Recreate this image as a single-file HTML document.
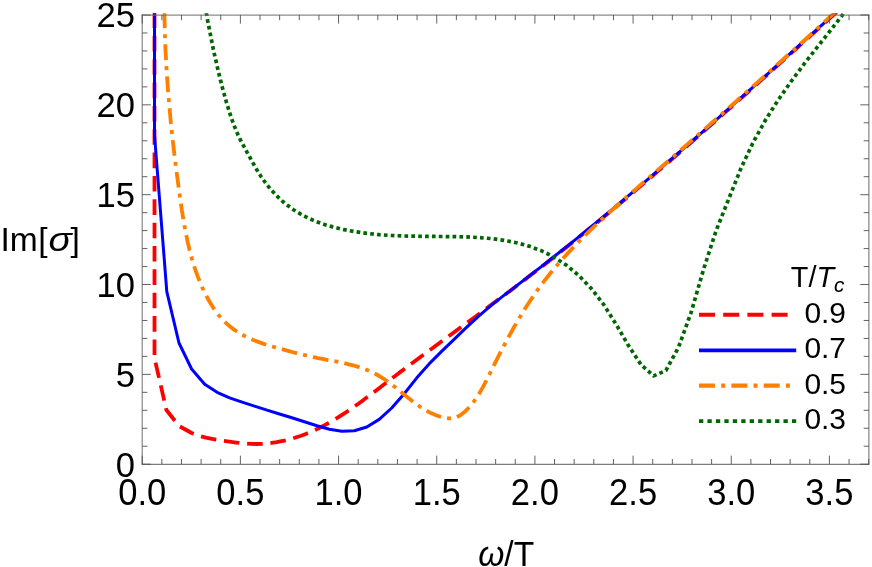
<!DOCTYPE html>
<html>
<head>
<meta charset="utf-8">
<title>Im[sigma] vs omega/T</title>
<style>
html, body { margin: 0; padding: 0; background: #ffffff; }
body { width: 872px; height: 567px; overflow: hidden; }
svg { display: block; will-change: transform; }
text { font-family: "Liberation Sans", sans-serif; fill: #000000; }
.it { font-style: italic; }
</style>
</head>
<body>
<svg width="872" height="567" viewBox="0 0 872 567">
<rect x="0" y="0" width="872" height="567" fill="#ffffff"/>
<defs>
<clipPath id="pc"><rect x="141.2" y="13.3" width="728.7" height="452.59999999999997"/></clipPath>
</defs>

<!-- data curves -->
<g clip-path="url(#pc)" fill="none" stroke-linejoin="round" stroke-linecap="butt">
<polyline stroke="#ff0000" stroke-width="3.8" stroke-dasharray="15.6 7.75" points="154.5,12.5 154.5,358.0 166.4,410.0 179.0,426.0 191.6,433.0 196.3,434.9 201.1,436.4 206.0,437.7 210.9,438.7 215.9,439.6 220.9,440.4 225.9,441.2 231.0,441.9 236.1,442.6 241.2,443.2 246.3,443.6 251.4,443.9 256.5,444.0 261.6,443.9 266.7,443.5 271.7,442.9 276.7,442.2 281.6,441.2 286.6,440.1 291.5,438.8 296.3,437.3 301.1,435.7 305.8,433.9 310.5,432.0 315.1,429.9 319.7,427.7 324.2,425.4 328.6,423.0 333.0,420.5 337.3,417.9 341.6,415.2 345.9,412.4 350.1,409.5 354.2,406.6 358.4,403.7 362.5,400.7 366.6,397.6 370.7,394.6 374.8,391.5 378.8,388.4 382.9,385.3 386.9,382.2 391.0,379.1 395.1,376.0 399.1,372.9 403.2,369.9 407.2,366.8 411.3,363.8 415.4,360.7 419.4,357.7 423.5,354.7 427.6,351.7 431.7,348.7 435.7,345.7 439.8,342.7 443.9,339.7 448.0,336.7 452.1,333.7 456.1,330.7 460.2,327.7 464.3,324.7 468.4,321.7 472.5,318.7 476.6,315.7 480.7,312.7 484.8,309.6 488.9,306.6 492.9,303.6 497.0,300.6 501.1,297.5 505.2,294.5 509.3,291.4 513.3,288.4 517.4,285.3 521.4,282.3 525.5,279.2 529.5,276.1 533.5,273.0 537.5,269.9 541.6,266.8 545.6,263.7 549.6,260.5 553.6,257.4 557.5,254.3 561.5,251.1 565.5,247.9 569.5,244.8 573.4,241.6 577.4,238.4 581.3,235.2 585.3,232.0 589.2,228.8 593.1,225.6 597.1,222.4 601.0,219.2 604.9,216.0 608.8,212.7 612.7,209.5 616.6,206.2 620.5,203.0 624.4,199.7 628.3,196.5 632.2,193.2 636.1,189.9 639.9,186.6 643.8,183.3 647.7,180.0 651.5,176.7 655.4,173.4 659.2,170.1 663.1,166.8 666.9,163.5 670.8,160.2 674.6,156.8 678.5,153.5 682.3,150.2 686.1,146.8 689.9,143.5 693.8,140.1 697.6,136.8 701.4,133.4 705.2,130.1 709.0,126.7 712.8,123.4 716.6,120.0 720.4,116.6 724.2,113.2 728.0,109.9 731.8,106.5 735.6,103.1 739.4,99.7 743.2,96.3 747.0,93.0 750.8,89.6 754.5,86.2 758.3,82.8 762.1,79.4 765.9,76.0 769.7,72.6 773.4,69.2 777.2,65.8 781.0,62.4 784.8,59.0 788.5,55.6 792.3,52.2 796.1,48.8 799.8,45.4 803.6,42.0 807.4,38.6 811.1,35.2 814.9,31.8 818.7,28.4 822.4,25.0 826.2,21.6 830.0,18.2 833.7,14.8 837.5,11.4 841.3,8.0 845.1,4.6"/>
<polyline stroke="#0000ff" stroke-width="3.0" points="154.5,12.4 154.5,135.0 166.8,291.7 179.0,343.0 191.6,369.0 204.7,384.3 217.1,392.3 229.6,397.8 242.1,402.1 254.5,406.1 267.0,410.1 279.5,414.0 291.9,417.8 304.4,421.7 316.9,425.7 329.4,429.3 341.8,431.3 354.3,430.7 366.8,427.0 379.2,419.4 391.7,408.0 404.2,393.7 416.6,378.1 429.1,363.9 441.6,351.4 454.1,339.4 466.5,327.4 479.0,315.8 491.5,305.1 503.9,295.4 516.4,285.9 528.9,276.3 541.3,266.6 553.8,256.8 566.3,246.9 578.8,236.8 591.2,226.7 603.7,216.4 616.2,206.1 628.6,195.6 641.1,185.1 653.6,174.4 666.0,163.7 678.5,152.9 691.0,142.0 703.5,131.1 715.9,120.1 728.4,109.0 740.9,97.9 753.3,86.8 765.8,75.6 778.3,64.4 790.7,53.1 803.2,41.9 815.7,30.6 828.2,19.3 840.6,8.1 845.0,4.1"/>
<polyline stroke="#ff8000" stroke-width="3.8" stroke-dasharray="15.8 6.1 4.0 6.13" points="164.5,12.3 164.5,16.7 164.6,21.2 164.7,25.6 164.8,30.1 164.9,34.5 165.1,38.9 165.3,43.4 165.4,47.8 165.6,52.2 165.9,56.7 166.1,61.1 166.3,65.5 166.6,70.0 166.9,74.4 167.2,78.8 167.5,83.2 167.8,87.6 168.1,92.1 168.5,96.5 168.9,100.9 169.3,105.3 169.7,109.7 170.1,114.2 170.5,118.6 170.9,123.0 171.4,127.4 171.8,131.8 172.3,136.2 172.8,140.6 173.3,145.0 173.8,149.4 174.3,153.8 174.9,158.2 175.4,162.6 175.9,167.1 176.5,171.5 177.1,175.9 177.7,180.3 178.3,184.7 178.9,189.1 179.5,193.5 180.1,197.9 180.7,202.3 181.4,206.7 182.0,211.1 182.7,215.4 183.4,219.8 184.2,224.2 185.0,228.6 185.8,232.9 186.7,237.2 187.6,241.6 188.6,245.9 189.6,250.2 190.8,254.5 191.9,258.7 193.2,263.0 194.5,267.2 195.9,271.4 197.4,275.6 199.0,279.7 200.7,283.8 202.5,287.9 204.4,292.0 206.4,296.0 208.6,300.0 210.8,303.8 213.2,307.6 215.8,311.3 218.4,314.8 221.3,318.2 224.3,321.4 227.5,324.4 230.9,327.3 234.4,329.9 238.1,332.3 242.0,334.6 245.9,336.7 249.9,338.6 254.0,340.3 258.2,341.9 262.4,343.4 266.6,344.8 270.8,346.1 275.1,347.3 279.4,348.5 283.7,349.7 288.0,350.8 292.2,352.0 296.5,353.1 300.8,354.2 305.0,355.2 309.3,356.2 313.7,357.2 318.0,358.1 322.4,358.9 326.8,359.8 331.2,360.6 335.6,361.4 340.0,362.3 344.3,363.2 348.7,364.3 353.0,365.3 357.3,366.6 361.5,367.9 365.6,369.4 369.7,371.1 373.7,372.9 377.5,375.0 381.3,377.3 385.1,379.7 388.7,382.3 392.3,385.0 395.9,387.8 399.4,390.7 402.9,393.5 406.5,396.4 410.0,399.2 413.5,402.0 417.1,404.6 420.8,407.2 424.5,409.5 428.3,411.7 432.1,413.6 436.1,415.3 440.2,416.7 444.4,417.8 448.6,418.3 452.8,418.2 456.8,417.1 460.6,415.1 464.2,412.3 467.5,409.0 470.6,405.6 473.4,402.1 476.0,398.4 478.5,394.7 480.7,390.9 482.9,387.1 485.0,383.2 487.0,379.2 489.0,375.2 491.0,371.3 492.9,367.3 494.9,363.3 496.9,359.3 498.9,355.4 501.0,351.4 503.0,347.4 505.1,343.5 507.2,339.6 509.3,335.6 511.5,331.7 513.6,327.8 515.9,324.0 518.1,320.1 520.4,316.3 522.7,312.5 525.0,308.7 527.4,305.0 529.8,301.3 532.3,297.6 534.8,293.9 537.3,290.3 539.9,286.7 542.6,283.2 545.2,279.7 548.0,276.2 550.7,272.8 553.6,269.4 556.4,266.0 559.3,262.7 562.2,259.3 565.2,256.1 568.2,252.8 571.2,249.6 574.2,246.4 577.3,243.2 580.4,240.0 583.5,236.9 586.7,233.8 589.9,230.7 593.1,227.6 596.3,224.5 599.5,221.5 602.8,218.5 606.1,215.5 609.4,212.5 612.7,209.5 616.0,206.5 619.3,203.5 622.7,200.6 626.0,197.6 629.4,194.7 632.7,191.8 636.1,188.8 639.4,185.9 642.8,183.0 646.2,180.1 649.5,177.2 652.9,174.2 656.2,171.3 659.6,168.4 663.0,165.5 666.3,162.6 669.7,159.7 673.0,156.7 676.4,153.8 679.7,150.9 683.0,148.0 686.4,145.1 689.7,142.2 693.1,139.2 696.4,136.3 699.7,133.4 703.1,130.5 706.4,127.6 709.7,124.6 713.0,121.7 716.4,118.8 719.7,115.9 723.0,112.9 726.3,110.0 729.6,107.1 732.9,104.1 736.3,101.2 739.6,98.3 742.9,95.3 746.2,92.4 749.5,89.5 752.8,86.5 756.1,83.6 759.4,80.6 762.7,77.7 766.0,74.7 769.3,71.8 772.6,68.8 775.9,65.9 779.2,62.9 782.5,60.0 785.8,57.0 789.1,54.0 792.4,51.1 795.7,48.1 799.0,45.1 802.3,42.1 805.6,39.2 808.9,36.2 812.2,33.2 815.4,30.2 818.7,27.2 822.0,24.2 825.3,21.2 828.6,18.2 831.9,15.2 835.2,12.2 838.5,9.2 841.7,6.2 845.0,3.1"/>
<polyline stroke="#006600" stroke-width="3.7" stroke-dasharray="3.7 3.17" points="206.2,12.4 206.7,15.2 207.2,18.0 207.7,20.9 208.3,23.7 208.8,26.5 209.4,29.3 209.9,32.1 210.5,35.0 211.0,37.8 211.6,40.6 212.2,43.4 212.7,46.2 213.3,49.0 213.9,51.8 214.5,54.6 215.1,57.4 215.8,60.2 216.4,63.0 217.0,65.8 217.7,68.6 218.3,71.4 219.0,74.2 219.7,76.9 220.4,79.7 221.1,82.5 221.8,85.3 222.5,88.0 223.2,90.8 224.0,93.6 224.8,96.4 225.6,99.1 226.3,101.9 227.2,104.7 228.0,107.4 228.8,110.2 229.7,112.9 230.6,115.6 231.5,118.4 232.5,121.1 233.5,123.8 234.5,126.5 235.6,129.1 236.7,131.8 237.8,134.4 239.0,137.0 240.3,139.6 241.6,142.1 242.9,144.6 244.3,147.2 245.7,149.7 247.0,152.2 248.4,154.7 249.8,157.2 251.1,159.7 252.5,162.2 253.9,164.7 255.3,167.2 256.8,169.7 258.2,172.1 259.8,174.6 261.3,177.0 263.0,179.3 264.7,181.7 266.4,184.0 268.2,186.3 270.0,188.5 271.9,190.7 273.9,192.8 275.9,194.9 277.9,196.9 280.0,198.9 282.1,200.9 284.3,202.7 286.5,204.6 288.8,206.3 291.1,208.0 293.5,209.7 295.8,211.2 298.3,212.7 300.7,214.1 303.2,215.5 305.8,216.8 308.3,218.1 310.9,219.2 313.5,220.4 316.2,221.5 318.9,222.5 321.6,223.5 324.3,224.4 327.1,225.3 329.8,226.1 332.6,226.9 335.5,227.6 338.3,228.3 341.8,229.2 354.3,231.6 366.8,233.4 379.2,234.7 391.7,235.5 404.2,236.0 416.6,236.2 429.1,236.4 441.6,236.5 454.1,236.6 466.5,236.9 479.0,237.6 491.5,238.6 503.9,240.3 516.4,242.7 528.9,246.1 541.3,250.7 553.8,256.9 566.3,265.1 578.8,275.5 591.2,288.4 603.7,304.6 616.2,324.5 628.6,345.8 641.1,364.8 653.6,375.9 666.0,370.4 678.5,347.3 691.0,312.8 703.5,269.6 715.9,231.2 728.4,199.7 740.9,168.5 753.3,142.0 765.8,119.5 778.3,99.8 790.7,82.0 803.2,65.2 815.7,49.1 828.2,33.3 840.6,17.4 850.9,4.0"/>
</g>

<!-- frame and ticks -->
<g stroke-width="1.0" fill="none" stroke-linecap="square">
<line x1="142.2" y1="15.0" x2="142.2" y2="464.2" stroke="#6e6e6e"/>
<line x1="868.9" y1="15.0" x2="868.9" y2="464.2" stroke="#6a6a6a"/>
<line x1="142.2" y1="15.1" x2="868.9" y2="15.1" stroke="#6e6e6e"/>
<line x1="142.2" y1="464.3" x2="868.9" y2="464.3" stroke="#5c5c5c"/>
</g>
<g stroke="#505050" stroke-width="0.9" fill="none">
<line x1="142.20" y1="464.2" x2="142.20" y2="455.59999999999997"/>
<line x1="142.20" y1="15.0" x2="142.20" y2="23.6"/>
<line x1="161.83" y1="464.2" x2="161.83" y2="459.0"/>
<line x1="161.83" y1="15.0" x2="161.83" y2="20.2"/>
<line x1="181.47" y1="464.2" x2="181.47" y2="459.0"/>
<line x1="181.47" y1="15.0" x2="181.47" y2="20.2"/>
<line x1="201.10" y1="464.2" x2="201.10" y2="459.0"/>
<line x1="201.10" y1="15.0" x2="201.10" y2="20.2"/>
<line x1="220.74" y1="464.2" x2="220.74" y2="459.0"/>
<line x1="220.74" y1="15.0" x2="220.74" y2="20.2"/>
<line x1="240.38" y1="464.2" x2="240.38" y2="455.59999999999997"/>
<line x1="240.38" y1="15.0" x2="240.38" y2="23.6"/>
<line x1="260.01" y1="464.2" x2="260.01" y2="459.0"/>
<line x1="260.01" y1="15.0" x2="260.01" y2="20.2"/>
<line x1="279.64" y1="464.2" x2="279.64" y2="459.0"/>
<line x1="279.64" y1="15.0" x2="279.64" y2="20.2"/>
<line x1="299.28" y1="464.2" x2="299.28" y2="459.0"/>
<line x1="299.28" y1="15.0" x2="299.28" y2="20.2"/>
<line x1="318.91" y1="464.2" x2="318.91" y2="459.0"/>
<line x1="318.91" y1="15.0" x2="318.91" y2="20.2"/>
<line x1="338.55" y1="464.2" x2="338.55" y2="455.59999999999997"/>
<line x1="338.55" y1="15.0" x2="338.55" y2="23.6"/>
<line x1="358.19" y1="464.2" x2="358.19" y2="459.0"/>
<line x1="358.19" y1="15.0" x2="358.19" y2="20.2"/>
<line x1="377.82" y1="464.2" x2="377.82" y2="459.0"/>
<line x1="377.82" y1="15.0" x2="377.82" y2="20.2"/>
<line x1="397.45" y1="464.2" x2="397.45" y2="459.0"/>
<line x1="397.45" y1="15.0" x2="397.45" y2="20.2"/>
<line x1="417.09" y1="464.2" x2="417.09" y2="459.0"/>
<line x1="417.09" y1="15.0" x2="417.09" y2="20.2"/>
<line x1="436.72" y1="464.2" x2="436.72" y2="455.59999999999997"/>
<line x1="436.72" y1="15.0" x2="436.72" y2="23.6"/>
<line x1="456.36" y1="464.2" x2="456.36" y2="459.0"/>
<line x1="456.36" y1="15.0" x2="456.36" y2="20.2"/>
<line x1="475.99" y1="464.2" x2="475.99" y2="459.0"/>
<line x1="475.99" y1="15.0" x2="475.99" y2="20.2"/>
<line x1="495.63" y1="464.2" x2="495.63" y2="459.0"/>
<line x1="495.63" y1="15.0" x2="495.63" y2="20.2"/>
<line x1="515.26" y1="464.2" x2="515.26" y2="459.0"/>
<line x1="515.26" y1="15.0" x2="515.26" y2="20.2"/>
<line x1="534.90" y1="464.2" x2="534.90" y2="455.59999999999997"/>
<line x1="534.90" y1="15.0" x2="534.90" y2="23.6"/>
<line x1="554.53" y1="464.2" x2="554.53" y2="459.0"/>
<line x1="554.53" y1="15.0" x2="554.53" y2="20.2"/>
<line x1="574.17" y1="464.2" x2="574.17" y2="459.0"/>
<line x1="574.17" y1="15.0" x2="574.17" y2="20.2"/>
<line x1="593.80" y1="464.2" x2="593.80" y2="459.0"/>
<line x1="593.80" y1="15.0" x2="593.80" y2="20.2"/>
<line x1="613.44" y1="464.2" x2="613.44" y2="459.0"/>
<line x1="613.44" y1="15.0" x2="613.44" y2="20.2"/>
<line x1="633.08" y1="464.2" x2="633.08" y2="455.59999999999997"/>
<line x1="633.08" y1="15.0" x2="633.08" y2="23.6"/>
<line x1="652.71" y1="464.2" x2="652.71" y2="459.0"/>
<line x1="652.71" y1="15.0" x2="652.71" y2="20.2"/>
<line x1="672.35" y1="464.2" x2="672.35" y2="459.0"/>
<line x1="672.35" y1="15.0" x2="672.35" y2="20.2"/>
<line x1="691.98" y1="464.2" x2="691.98" y2="459.0"/>
<line x1="691.98" y1="15.0" x2="691.98" y2="20.2"/>
<line x1="711.62" y1="464.2" x2="711.62" y2="459.0"/>
<line x1="711.62" y1="15.0" x2="711.62" y2="20.2"/>
<line x1="731.25" y1="464.2" x2="731.25" y2="455.59999999999997"/>
<line x1="731.25" y1="15.0" x2="731.25" y2="23.6"/>
<line x1="750.88" y1="464.2" x2="750.88" y2="459.0"/>
<line x1="750.88" y1="15.0" x2="750.88" y2="20.2"/>
<line x1="770.52" y1="464.2" x2="770.52" y2="459.0"/>
<line x1="770.52" y1="15.0" x2="770.52" y2="20.2"/>
<line x1="790.15" y1="464.2" x2="790.15" y2="459.0"/>
<line x1="790.15" y1="15.0" x2="790.15" y2="20.2"/>
<line x1="809.79" y1="464.2" x2="809.79" y2="459.0"/>
<line x1="809.79" y1="15.0" x2="809.79" y2="20.2"/>
<line x1="829.42" y1="464.2" x2="829.42" y2="455.59999999999997"/>
<line x1="829.42" y1="15.0" x2="829.42" y2="23.6"/>
<line x1="849.06" y1="464.2" x2="849.06" y2="459.0"/>
<line x1="849.06" y1="15.0" x2="849.06" y2="20.2"/>
<line x1="868.69" y1="464.2" x2="868.69" y2="459.0"/>
<line x1="868.69" y1="15.0" x2="868.69" y2="20.2"/>
<line x1="142.2" y1="464.20" x2="150.79999999999998" y2="464.20"/>
<line x1="868.9" y1="464.20" x2="860.3" y2="464.20"/>
<line x1="142.2" y1="446.23" x2="147.39999999999998" y2="446.23"/>
<line x1="868.9" y1="446.23" x2="863.6999999999999" y2="446.23"/>
<line x1="142.2" y1="428.26" x2="147.39999999999998" y2="428.26"/>
<line x1="868.9" y1="428.26" x2="863.6999999999999" y2="428.26"/>
<line x1="142.2" y1="410.30" x2="147.39999999999998" y2="410.30"/>
<line x1="868.9" y1="410.30" x2="863.6999999999999" y2="410.30"/>
<line x1="142.2" y1="392.33" x2="147.39999999999998" y2="392.33"/>
<line x1="868.9" y1="392.33" x2="863.6999999999999" y2="392.33"/>
<line x1="142.2" y1="374.36" x2="150.79999999999998" y2="374.36"/>
<line x1="868.9" y1="374.36" x2="860.3" y2="374.36"/>
<line x1="142.2" y1="356.39" x2="147.39999999999998" y2="356.39"/>
<line x1="868.9" y1="356.39" x2="863.6999999999999" y2="356.39"/>
<line x1="142.2" y1="338.42" x2="147.39999999999998" y2="338.42"/>
<line x1="868.9" y1="338.42" x2="863.6999999999999" y2="338.42"/>
<line x1="142.2" y1="320.46" x2="147.39999999999998" y2="320.46"/>
<line x1="868.9" y1="320.46" x2="863.6999999999999" y2="320.46"/>
<line x1="142.2" y1="302.49" x2="147.39999999999998" y2="302.49"/>
<line x1="868.9" y1="302.49" x2="863.6999999999999" y2="302.49"/>
<line x1="142.2" y1="284.52" x2="150.79999999999998" y2="284.52"/>
<line x1="868.9" y1="284.52" x2="860.3" y2="284.52"/>
<line x1="142.2" y1="266.55" x2="147.39999999999998" y2="266.55"/>
<line x1="868.9" y1="266.55" x2="863.6999999999999" y2="266.55"/>
<line x1="142.2" y1="248.58" x2="147.39999999999998" y2="248.58"/>
<line x1="868.9" y1="248.58" x2="863.6999999999999" y2="248.58"/>
<line x1="142.2" y1="230.62" x2="147.39999999999998" y2="230.62"/>
<line x1="868.9" y1="230.62" x2="863.6999999999999" y2="230.62"/>
<line x1="142.2" y1="212.65" x2="147.39999999999998" y2="212.65"/>
<line x1="868.9" y1="212.65" x2="863.6999999999999" y2="212.65"/>
<line x1="142.2" y1="194.68" x2="150.79999999999998" y2="194.68"/>
<line x1="868.9" y1="194.68" x2="860.3" y2="194.68"/>
<line x1="142.2" y1="176.71" x2="147.39999999999998" y2="176.71"/>
<line x1="868.9" y1="176.71" x2="863.6999999999999" y2="176.71"/>
<line x1="142.2" y1="158.74" x2="147.39999999999998" y2="158.74"/>
<line x1="868.9" y1="158.74" x2="863.6999999999999" y2="158.74"/>
<line x1="142.2" y1="140.78" x2="147.39999999999998" y2="140.78"/>
<line x1="868.9" y1="140.78" x2="863.6999999999999" y2="140.78"/>
<line x1="142.2" y1="122.81" x2="147.39999999999998" y2="122.81"/>
<line x1="868.9" y1="122.81" x2="863.6999999999999" y2="122.81"/>
<line x1="142.2" y1="104.84" x2="150.79999999999998" y2="104.84"/>
<line x1="868.9" y1="104.84" x2="860.3" y2="104.84"/>
<line x1="142.2" y1="86.87" x2="147.39999999999998" y2="86.87"/>
<line x1="868.9" y1="86.87" x2="863.6999999999999" y2="86.87"/>
<line x1="142.2" y1="68.90" x2="147.39999999999998" y2="68.90"/>
<line x1="868.9" y1="68.90" x2="863.6999999999999" y2="68.90"/>
<line x1="142.2" y1="50.94" x2="147.39999999999998" y2="50.94"/>
<line x1="868.9" y1="50.94" x2="863.6999999999999" y2="50.94"/>
<line x1="142.2" y1="32.97" x2="147.39999999999998" y2="32.97"/>
<line x1="868.9" y1="32.97" x2="863.6999999999999" y2="32.97"/>
<line x1="142.2" y1="15.00" x2="150.79999999999998" y2="15.00"/>
<line x1="868.9" y1="15.00" x2="860.3" y2="15.00"/>
</g>

<!-- tick labels -->
<g font-size="33.6">
<text transform="translate(142.2,505.4) scale(1.03,1.08)" text-anchor="middle">0.0</text>
<text transform="translate(240.4,505.4) scale(1.03,1.08)" text-anchor="middle">0.5</text>
<text transform="translate(338.5,505.4) scale(1.03,1.08)" text-anchor="middle">1.0</text>
<text transform="translate(436.7,505.4) scale(1.03,1.08)" text-anchor="middle">1.5</text>
<text transform="translate(534.9,505.4) scale(1.03,1.08)" text-anchor="middle">2.0</text>
<text transform="translate(633.1,505.4) scale(1.03,1.08)" text-anchor="middle">2.5</text>
<text transform="translate(731.2,505.4) scale(1.03,1.08)" text-anchor="middle">3.0</text>
<text transform="translate(829.4,505.4) scale(1.03,1.08)" text-anchor="middle">3.5</text>
<text transform="translate(135.0,476.5) scale(1.03,1.07)" text-anchor="end">0</text>
<text transform="translate(135.0,386.7) scale(1.03,1.07)" text-anchor="end">5</text>
<text transform="translate(135.0,296.8) scale(1.03,1.07)" text-anchor="end">10</text>
<text transform="translate(135.0,207.0) scale(1.03,1.07)" text-anchor="end">15</text>
<text transform="translate(135.0,117.1) scale(1.03,1.07)" text-anchor="end">20</text>
<text transform="translate(135.0,27.3) scale(1.03,1.07)" text-anchor="end">25</text>
</g>

<!-- axis labels -->
<text x="0.5" y="251.4" font-size="33.6">Im</text>
<text x="38.2" y="251.4" font-size="33.6">[</text>
<text transform="translate(48.4,251.4) scale(1.15,1)" font-size="33.6" class="it">&#963;</text>
<text x="70.5" y="251.4" font-size="33.6">]</text>
<text transform="translate(506.2,565.9) scale(1,1.035)" font-size="33.6" text-anchor="middle"><tspan class="it">&#969;</tspan>/T</text>

<!-- legend -->
<g font-size="28.8">
<text x="790.8" y="287.3">T/<tspan class="it">T</tspan><tspan class="it" font-size="20.7" dy="4.5">c</tspan></text>
<text transform="translate(804.4,322.7) scale(1.04,1)">0.9</text>
<text transform="translate(804.4,358.2) scale(1.04,1)">0.7</text>
<text transform="translate(804.4,393.6) scale(1.04,1)">0.5</text>
<text transform="translate(804.4,429.1) scale(1.04,1)">0.3</text>
</g>
<g fill="none" stroke-linecap="butt">
<line x1="699.0" y1="314.8" x2="795.0" y2="314.8" stroke="#ff0000" stroke-width="4.0" stroke-dasharray="16 8.2"/>
<line x1="699.0" y1="350.3" x2="796.2" y2="350.3" stroke="#0000ff" stroke-width="3.7"/>
<line x1="699.0" y1="385.7" x2="795.0" y2="385.7" stroke="#ff8000" stroke-width="4.2" stroke-dasharray="16 6.2 4.0 6.15"/>
<line x1="699.0" y1="421.2" x2="796.2" y2="421.2" stroke="#006600" stroke-width="3.8" stroke-dasharray="4.3 4.15"/>
</g>
</svg>
</body>
</html>
